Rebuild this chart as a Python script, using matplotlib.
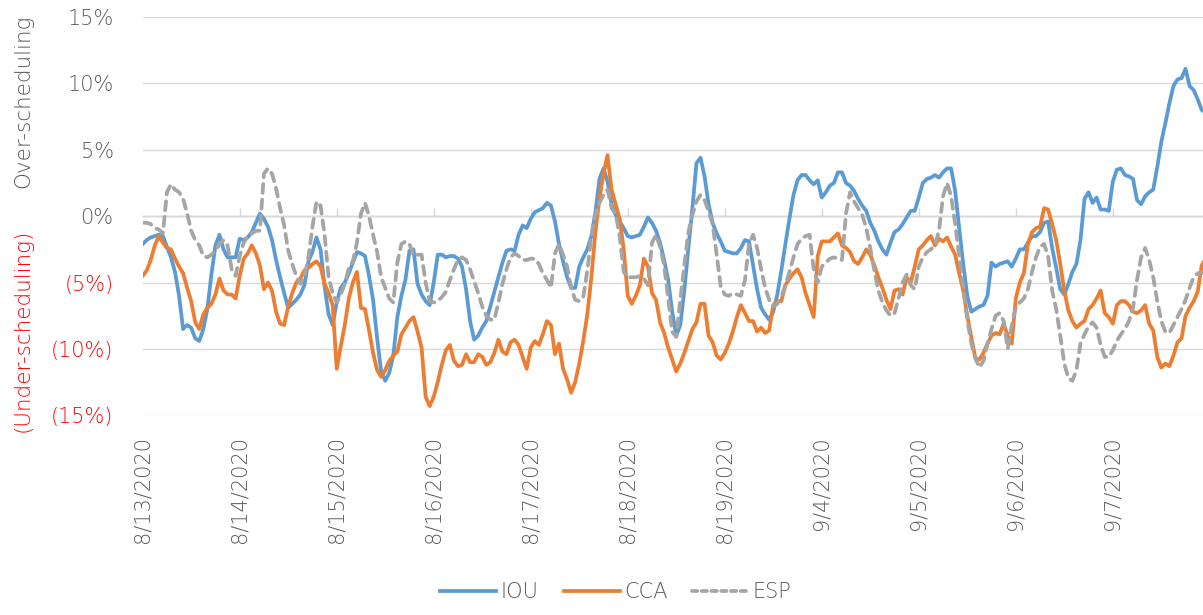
import matplotlib.pyplot as plt
from matplotlib.lines import Line2D

# hourly scheduling deviation (%), 24 values per day
DAYS = ['8/13/2020', '8/14/2020', '8/15/2020', '8/16/2020', '8/17/2020', '8/18/2020',
        '8/19/2020', '9/4/2020', '9/5/2020', '9/6/2020', '9/7/2020']

IOU = [
    -2.1, -1.8, -1.6, -1.5, -1.4, -1.5, -2.3, -3.1, -4.2, -6.0, -8.5, -8.2, -8.4, -9.2, -9.4, -8.5, -7.0, -4.4, -2.2, -1.4, -2.5, -3.1, -3.1, -3.1,
    -1.7, -1.8, -1.6, -1.2, -0.5, 0.2, -0.2, -0.8, -1.8, -3.3, -4.6, -5.8, -6.9, -6.6, -6.3, -5.9, -5.2, -3.4, -2.7, -1.6, -2.5, -5.3, -7.4, -8.2,
    -6.5, -5.4, -5.0, -4.3, -3.5, -2.7, -2.8, -3.0, -4.5, -6.3, -9.2, -11.7, -12.4, -11.8, -10.5, -7.6, -6.0, -4.8, -2.6, -2.5, -5.1, -5.9, -6.4, -6.7,
    -5.0, -2.9, -2.9, -3.1, -3.0, -3.0, -3.2, -3.8, -5.5, -7.9, -9.3, -9.0, -8.4, -7.9, -6.8, -5.7, -4.6, -3.5, -2.6, -2.5, -2.6, -1.4, -0.7, -0.9,
    -0.2, 0.3, 0.45, 0.6, 1.0, 0.8, -0.4, -2.1, -3.4, -4.6, -5.4, -5.4, -3.8, -3.1, -2.5, -1.5, 0.3, 2.8, 3.6, 2.6, 0.9, 0.1, -0.4, -0.9,
    -1.5, -1.6, -1.5, -1.4, -0.8, -0.1, -0.5, -1.1, -2.0, -3.3, -4.8, -7.2, -9.0, -8.2, -5.6, -2.4, 0.6, 4.0, 4.4, 3.0, 0.9, -0.5, -1.3, -1.9,
    -2.6, -2.7, -2.8, -2.8, -2.4, -1.8, -1.9, -3.7, -5.5, -6.9, -7.4, -7.8, -7.2, -5.9, -4.1, -2.1, -0.2, 1.6, 2.7, 3.1, 3.1, 2.7, 2.4, 2.7,
    1.4, 1.8, 2.3, 2.5, 3.3, 3.3, 2.5, 2.3, 1.9, 1.3, 0.8, 0.4, -0.5, -1.1, -1.9, -2.5, -2.9, -2.0, -1.2, -1.0, -0.6, -0.1, 0.4, 0.4,
    1.4, 2.5, 2.8, 2.9, 3.1, 2.9, 3.3, 3.6, 3.6, 1.9, -0.9, -3.6, -6.0, -7.2, -7.0, -6.8, -6.7, -6.0, -3.5, -3.8, -3.6, -3.5, -3.4, -3.8,
    -3.2, -2.5, -2.5, -2.0, -1.5, -1.5, -1.2, -0.5, -0.4, -2.4, -3.9, -5.5, -5.9, -5.1, -4.2, -3.6, -1.8, 1.3, 1.8, 1.0, 1.4, 0.5, 0.5, 0.4,
    2.6, 3.5, 3.6, 3.1, 3.0, 2.8, 1.2, 0.9, 1.5, 1.8, 2.0, 3.7, 5.6, 7.0, 8.5, 9.8, 10.3, 10.4, 11.1, 9.8, 9.5, 8.8, 8.0, 7.8,
]

CCA = [
    -4.5, -4.1, -3.3, -2.2, -1.5, -2.0, -2.4, -2.5, -3.2, -3.8, -4.3, -5.4, -6.4, -8.0, -8.5, -7.4, -6.9, -6.6, -5.9, -4.7, -5.6, -5.9, -5.9, -6.2,
    -4.5, -3.2, -2.8, -2.2, -2.8, -3.7, -5.5, -5.0, -5.6, -7.2, -8.1, -8.2, -6.8, -5.8, -5.0, -4.7, -4.1, -3.9, -3.6, -3.4, -3.8, -5.1, -5.8, -6.7,
    -11.5, -9.8, -8.2, -6.2, -5.0, -4.2, -6.9, -7.0, -8.6, -10.3, -11.6, -12.1, -11.6, -10.9, -10.5, -10.2, -8.9, -8.4, -7.9, -7.6, -8.7, -9.9, -13.6, -14.3,
    -13.6, -12.5, -11.2, -10.1, -9.7, -10.9, -11.3, -11.2, -10.4, -11.0, -11.0, -10.4, -10.6, -11.2, -11.0, -10.3, -9.3, -10.2, -10.4, -9.5, -9.3, -9.7, -10.6, -11.5,
    -9.9, -9.4, -9.7, -8.9, -7.9, -8.2, -10.4, -9.6, -11.5, -12.3, -13.3, -12.5, -11.1, -9.4, -7.4, -4.6, -1.2, 1.3, 3.2, 4.6, 2.0, 0.9, -0.2, -2.5,
    -6.0, -6.6, -6.0, -5.2, -3.2, -3.8, -5.8, -6.3, -8.0, -8.8, -9.9, -10.8, -11.7, -11.1, -10.3, -9.4, -8.5, -8.0, -6.6, -6.6, -9.0, -9.5, -10.5, -10.8,
    -10.3, -9.6, -8.7, -7.6, -6.7, -7.3, -7.9, -7.9, -8.7, -8.4, -8.8, -8.6, -6.7, -6.4, -6.4, -5.2, -4.7, -4.3, -4.0, -4.6, -5.8, -6.7, -7.6, -3.0,
    -1.9, -1.9, -1.9, -1.6, -1.3, -2.2, -2.4, -2.7, -3.4, -3.6, -3.1, -2.5, -2.9, -3.7, -4.6, -5.4, -6.3, -7.0, -5.6, -5.5, -5.9, -4.6, -5.0, -3.8,
    -2.5, -2.2, -1.8, -1.5, -2.2, -1.7, -1.9, -1.6, -2.3, -2.9, -4.3, -5.6, -7.5, -9.1, -10.7, -10.8, -10.3, -9.6, -9.0, -8.8, -8.9, -8.1, -9.0, -9.6,
    -6.2, -5.0, -4.3, -2.1, -1.2, -0.9, -0.8, 0.6, 0.5, -0.6, -1.8, -3.6, -5.6, -7.1, -7.9, -8.4, -8.1, -7.9, -7.0, -6.7, -6.2, -5.6, -7.3, -7.6,
    -8.1, -6.7, -6.4, -6.4, -6.7, -7.2, -7.3, -7.1, -6.7, -8.1, -8.6, -10.6, -11.4, -11.1, -11.3, -10.5, -9.5, -9.2, -7.5, -6.9, -6.4, -5.7, -3.7, -3.2,
]

ESP = [
    -0.5, -0.5, -0.6, -0.9, -1.0, -1.3, 1.8, 2.4, 2.0, 1.8, 1.3, 0.2, -1.1, -1.8, -2.2, -3.0, -3.1, -2.9, -2.6, -2.1, -1.8, -2.2, -4.0, -4.5,
    -3.0, -2.0, -1.5, -1.3, -1.1, -1.1, 3.2, 3.6, 3.2, 2.1, 0.6, -0.7, -2.6, -3.6, -4.5, -5.1, -4.6, -3.1, -0.8, 1.1, 0.8, -1.4, -4.6, -5.8,
    -6.5, -5.9, -5.1, -3.9, -3.4, -2.0, 0.2, 1.0, 0.0, -1.4, -2.7, -4.6, -5.4, -6.2, -6.5, -3.5, -2.1, -1.9, -2.1, -3.0, -2.9, -2.9, -5.0, -6.4,
    -6.5, -6.4, -6.1, -5.7, -4.8, -4.0, -3.3, -3.1, -3.3, -4.0, -4.9, -5.8, -6.8, -7.5, -7.8, -7.8, -6.5, -5.1, -4.0, -3.1, -2.8, -3.0, -3.3, -3.3,
    -3.2, -3.2, -3.6, -4.3, -4.8, -5.4, -2.8, -2.1, -2.9, -3.8, -5.4, -6.3, -6.4, -6.1, -4.1, -1.5, 0.1, 1.0, 1.6, 2.0, 0.6, 0.2, -1.5, -4.2,
    -4.6, -4.6, -4.6, -4.5, -4.7, -5.2, -2.0, -1.4, -2.3, -3.7, -6.2, -8.7, -9.1, -6.3, -3.7, -1.2, 0.1, 1.1, 1.6, 1.2, 0.4, -0.6, -2.9, -5.3,
    -5.9, -6.0, -5.8, -5.9, -6.0, -4.8, -2.1, -1.4, -2.4, -4.0, -5.4, -6.3, -6.8, -6.6, -6.1, -5.2, -4.2, -3.1, -2.1, -1.7, -1.5, -1.4, -4.0, -5.0,
    -3.8, -3.5, -3.2, -3.1, -3.2, -3.3, 0.2, 1.8, 1.1, 0.6, 0.1, -0.9, -2.4, -4.1, -5.6, -6.5, -7.1, -7.5, -7.3, -6.2, -5.0, -4.4, -5.2, -5.5,
    -3.8, -3.1, -2.7, -2.5, -2.2, -1.1, 1.5, 2.5, 1.5, -0.6, -3.0, -5.4, -7.8, -9.6, -10.7, -11.4, -10.9, -9.6, -8.5, -7.5, -7.3, -7.9, -10.0, -8.2,
    -6.9, -6.5, -6.2, -5.5, -4.2, -3.1, -2.3, -2.1, -3.0, -5.6, -7.0, -9.0, -11.1, -12.2, -12.4, -11.6, -9.6, -8.9, -8.3, -8.0, -8.4, -9.7, -10.6, -10.6,
    -10.1, -9.4, -8.9, -8.5, -7.9, -6.9, -4.8, -3.1, -2.4, -3.3, -4.6, -6.4, -7.9, -8.7, -8.8, -8.2, -7.6, -7.0, -6.3, -5.4, -4.6, -4.3, -4.3, -4.2,
]

Y_TICKS = [-15, -10, -5, 0, 5, 10, 15]
Y_LABELS = ['(15%)', '(10%)', '(5%)', '0%', '5%', '10%', '15%']

BLUE = '#5B9BD5'
ORANGE = '#ED7D31'
GREY = '#A5A5A5'
TXT = '#595959'
RED = '#FF0000'
GRID = '#D9D9D9'

plt.rcParams['font.family'] = ['DejaVu Sans']
plt.rcParams['font.weight'] = 'light'

fig = plt.figure(figsize=(12.03, 6.15), dpi=100)
ax = fig.add_axes([0.1186, 0.3247, 0.8837, 0.6476])

hours = list(range(len(IOU)))
lw = 2.7
ax.plot(hours, IOU, color=BLUE, lw=lw, solid_joinstyle='round', label='IOU')
ax.plot(hours, CCA, color=ORANGE, lw=lw, solid_joinstyle='round', label='CCA')
ax.plot(hours, ESP, color=GREY, lw=lw, dashes=(2.4, 1.8), dash_capstyle='round', label='ESP')

ax.set_xlim(0, len(IOU) - 1)
ax.set_ylim(-15, 15)

for s in ax.spines.values():
    s.set_visible(False)

ax.set_yticks(Y_TICKS)
ax.set_yticklabels(Y_LABELS, fontsize=15)
ax.tick_params(axis='y', length=0, pad=21)
for lbl, v in zip(ax.get_yticklabels(), Y_TICKS):
    lbl.set_color(RED if v < 0 else TXT)
ax.yaxis.grid(True, color=GRID, lw=1.0)
ax.set_axisbelow(True)

day_pos = [24 * i for i in range(len(DAYS))]
ax.set_xticks(day_pos)
ax.set_xticklabels(DAYS, rotation=90, fontsize=15, color=TXT, va='top')
ax.tick_params(axis='x', length=0, pad=15)

# small day ticks sitting on the 0% line
zero_axis = ax.secondary_xaxis(0.5)
zero_axis.set_xticks(day_pos[1:])
zero_axis.set_xticklabels([])
zero_axis.tick_params(axis='x', length=6, width=1.0, color=GRID)
zero_axis.spines['bottom'].set_color(GRID)

fig.text(0.019, 0.836, 'Over-scheduling', rotation=90, ha='center', va='center',
         fontsize=15.5, color=TXT)
fig.text(0.019, 0.463, '(Under-scheduling)', rotation=90, ha='center', va='center',
         fontsize=15.5, color=RED)

handles = [
    Line2D([], [], color=BLUE, lw=lw),
    Line2D([], [], color=ORANGE, lw=lw),
    Line2D([], [], color=GREY, lw=lw, dashes=(1.4, 1.2), dash_capstyle='round'),
]
leg = fig.legend(handles, ['IOU', 'CCA', 'ESP'], loc='lower center', bbox_to_anchor=(0.512, -0.01),
                 ncol=3, frameon=False, fontsize=15, handlelength=2.7, handletextpad=0.2,
                 columnspacing=1.2)
for t in leg.get_texts():
    t.set_color(TXT)

fig.savefig('out.png', dpi=100)
